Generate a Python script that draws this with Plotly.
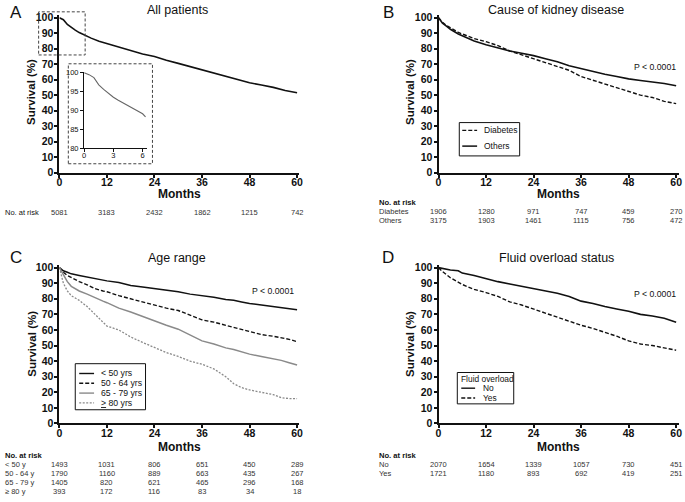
import plotly.graph_objects as go

W, H = 685, 502
FONT = "Arial, Liberation Sans, sans-serif"

# ---------------- data ----------------
months_all = [0, 1, 2, 3, 4, 5, 6, 8, 10, 12, 15, 18, 21, 24, 27, 30, 33, 36, 39, 42, 45, 48, 51, 54, 57, 60]
surv_all = [100, 98.7, 95.6, 93.5, 92, 90.4, 89.1, 86.8, 84.8, 83.2, 81, 78.5, 76.5, 75, 72.5, 70.5, 68.5, 66, 64, 62, 60, 58, 56.5, 55, 53, 51.5]

months_inset = [0, 0.5, 1, 1.5, 2, 2.5, 3, 3.5, 4, 4.5, 5, 5.5, 6, 6.3]
surv_inset = [100, 99.5, 98.7, 96.8, 95.6, 94.5, 93.5, 92.7, 92, 91.2, 90.4, 89.8, 89.1, 88.3]

months_b = [0, 1, 2, 3, 5, 7, 9, 12, 15, 18, 21, 24, 27, 30, 33, 36, 39, 42, 45, 48, 51, 54, 57, 60]
surv_diabetes = [100, 97, 95, 93.5, 90.5, 88.5, 86.5, 84.5, 82, 78.5, 76, 73.5, 70.5, 68.5, 66, 62, 59.5, 57, 55, 52, 50, 48.5, 46, 44.5]
surv_others = [100, 96.5, 94.5, 92.5, 89.5, 87, 85, 82.5, 80.5, 78.5, 77, 75.5, 73.5, 71.5, 69, 67, 65.5, 63.5, 62, 60.5, 59.5, 58.5, 57.5, 56]

months_c = [0, 0.5, 1, 2, 3, 5, 7, 9, 11, 12, 15, 18, 21, 24, 27, 30, 33, 36, 39, 42, 44, 46, 48, 51, 54, 56, 58, 60]
surv_lt50 = [100, 99, 98, 97, 96, 95, 94, 93, 92, 91.5, 90.5, 88.5, 87.5, 86.5, 85.5, 84.5, 83, 82, 81, 79.5, 79, 78, 77, 76, 75, 74.5, 74, 73]
surv_50_64 = [100, 98.5, 97, 95, 93.5, 91, 89, 86.5, 85, 84.5, 82, 80, 78, 76, 74, 72.5, 69.5, 66.5, 65, 63, 62, 60.5, 59, 57, 56, 55, 54, 52.5]
surv_65_79 = [100, 97.5, 95, 91, 88, 85, 83, 80.5, 78.5, 77.5, 74, 71.5, 68.5, 65.5, 63, 60.5, 57, 53, 51, 48.5, 47.5, 46, 44.5, 43, 41.5, 40.5, 39, 37.5]
surv_ge80 = [100, 95, 90, 85, 82, 79, 75, 70, 65, 62.5, 60, 55.5, 52, 48.5, 45.5, 43, 40, 38, 35, 30, 25.5, 23, 21.5, 20, 18.5, 16.5, 16, 16]

months_d = [0, 1, 3, 5, 6, 9, 12, 15, 18, 21, 24, 27, 30, 33, 36, 39, 42, 45, 48, 51, 54, 57, 60]
surv_no = [100, 99.5, 98.5, 98, 96.5, 95, 93, 91, 89.5, 88, 86.5, 85, 83.5, 81.5, 78.5, 77, 75, 73.5, 72, 70, 69, 67.5, 65]
surv_yes = [100, 97.5, 93.5, 90.5, 89.2, 86, 84, 81.5, 78, 76, 73.5, 70.5, 68, 66, 63, 61, 58.5, 56, 53, 51, 50, 48.5, 47]

risk_ticks = [0, 12, 24, 36, 48, 60]
risk_all = ["5081", "3183", "2432", "1862", "1215", "742"]
risk_diabetes = ["1906", "1280", "971", "747", "459", "270"]
risk_others = ["3175", "1903", "1461", "1115", "756", "472"]
risk_lt50 = ["1493", "1031", "806", "651", "450", "289"]
risk_50_64 = ["1790", "1160", "889", "663", "435", "267"]
risk_65_79 = ["1405", "820", "621", "465", "296", "168"]
risk_ge80 = ["393", "172", "116", "83", "34", "18"]
risk_no = ["2070", "1654", "1339", "1057", "730", "451"]
risk_yes = ["1721", "1180", "893", "692", "419", "251"]


def X(p):
    return p / W


def Y(p):
    return 1 - p / H


fig = go.Figure()

BLACK = "#111111"
GREY = "#8a8a8a"
DASH = "4px,2px"
DOT = "2px,1.5px"

# panel A
fig.add_trace(go.Scatter(x=months_all, y=surv_all, mode="lines",
                         line=dict(color=BLACK, width=1.6), xaxis="x", yaxis="y"))
# inset
fig.add_trace(go.Scatter(x=months_inset, y=surv_inset, mode="lines",
                         line=dict(color="#666666", width=1.1), xaxis="x5", yaxis="y5"))
# panel B
fig.add_trace(go.Scatter(x=months_b, y=surv_diabetes, mode="lines",
                         line=dict(color=BLACK, width=1.4, dash=DASH), xaxis="x2", yaxis="y2"))
fig.add_trace(go.Scatter(x=months_b, y=surv_others, mode="lines",
                         line=dict(color=BLACK, width=1.6), xaxis="x2", yaxis="y2"))
# panel C
fig.add_trace(go.Scatter(x=months_c, y=surv_lt50, mode="lines",
                         line=dict(color=BLACK, width=1.5), xaxis="x3", yaxis="y3"))
fig.add_trace(go.Scatter(x=months_c, y=surv_50_64, mode="lines",
                         line=dict(color=BLACK, width=1.4, dash=DASH), xaxis="x3", yaxis="y3"))
fig.add_trace(go.Scatter(x=months_c, y=surv_65_79, mode="lines",
                         line=dict(color=GREY, width=1.5), xaxis="x3", yaxis="y3"))
fig.add_trace(go.Scatter(x=months_c, y=surv_ge80, mode="lines",
                         line=dict(color=GREY, width=1.3, dash=DOT), xaxis="x3", yaxis="y3"))
# panel D
fig.add_trace(go.Scatter(x=months_d, y=surv_no, mode="lines",
                         line=dict(color=BLACK, width=1.6), xaxis="x4", yaxis="y4"))
fig.add_trace(go.Scatter(x=months_d, y=surv_yes, mode="lines",
                         line=dict(color=BLACK, width=1.4, dash=DASH), xaxis="x4", yaxis="y4"))

tickfont = dict(family=FONT, size=10.5, color=BLACK, weight="bold")


def xax(x0, x1, anchor):
    return dict(domain=[X(x0), X(x1)], range=[0, 60.6], anchor=anchor,
                tickvals=[0, 12, 24, 36, 48, 60], ticks="outside", ticklen=3, tickwidth=2,
                tickcolor=BLACK, showline=True, linewidth=2, linecolor=BLACK,
                showgrid=False, zeroline=False, tickfont=tickfont, ticklabelstandoff=-4,
                fixedrange=True)


def yax(y_top, y_bot, anchor):
    return dict(domain=[Y(y_bot), Y(y_top)], range=[0, 101.5], anchor=anchor,
                tickvals=list(range(0, 101, 10)), ticks="outside", ticklen=3, tickwidth=2,
                tickcolor=BLACK, showline=True, linewidth=2, linecolor=BLACK,
                showgrid=False, zeroline=False, tickfont=tickfont, ticklabelstandoff=-1,
                fixedrange=True)


layout = dict(
    width=W, height=H, margin=dict(l=0, r=0, t=0, b=0),
    paper_bgcolor="white", plot_bgcolor="white", showlegend=False,
    font=dict(family=FONT, color=BLACK),
    xaxis=xax(57, 299.5, "y"),
    yaxis=yax(11.6, 172, "x"),
    xaxis2=xax(440, 682.5, "y2"),
    yaxis2=yax(11.6, 172, "x2"),
    xaxis3=xax(57, 299.5, "y3"),
    yaxis3=yax(266.6, 428, "x3"),
    xaxis4=xax(440, 682.5, "y4"),
    yaxis4=yax(266.6, 428, "x4"),
    xaxis5=dict(domain=[X(82), X(145)], range=[0, 6.4], anchor="y5",
                tickvals=[0, 3, 6], ticks="outside", ticklen=3, tickwidth=1,
                tickcolor=BLACK, showline=True, linewidth=1.2, linecolor=BLACK,
                showgrid=False, zeroline=False, ticklabelstandoff=-3,
                tickfont=dict(family=FONT, size=7.5, color=BLACK), fixedrange=True),
    yaxis5=dict(domain=[Y(147), Y(69)], range=[80, 100.3], anchor="x5",
                tickvals=[80, 85, 90, 95, 100], ticks="outside", ticklen=3, tickwidth=1,
                tickcolor=BLACK, showline=True, linewidth=1.2, linecolor=BLACK,
                showgrid=False, zeroline=False,
                tickfont=dict(family=FONT, size=7.5, color=BLACK), fixedrange=True),
)
fig.update_layout(**layout)

ann = []
shapes = []


def text(x, y, s, size, bold=False, xanchor="center", angle=0, xref="paper", color=BLACK):
    ann.append(dict(x=x, y=Y(y), xref=xref, yref="paper", text=s, showarrow=False,
                    xanchor=xanchor, yanchor="middle", textangle=angle,
                    font=dict(family=FONT, size=size, color=color,
                              weight="bold" if bold else "normal")))


# panel letters and titles
for lx, ly, L in [(13, 9, "A"), (389, 9, "B"), (13, 259, "C"), (389, 259, "D")]:
    text(X(lx), ly, L, 17)
text(X(176), 6, "All patients", 12.5)
text(X(559), 6, "Cause of kidney disease", 12.5)
text(X(176), 259, "Age range", 12.5)
text(X(559), 259, "Fluid overload status", 12.5)

# axis titles
for cx in (178, 561):
    text(X(cx), 194, "Months", 12, bold=True)
    text(X(cx), 452, "Months", 12, bold=True)
for cx in (29, 411):
    text(X(cx), 90, "Survival (%)", 11.5, bold=True, angle=-90)
    text(X(cx), 347, "Survival (%)", 11.5, bold=True, angle=-90)

# P values
text(X(659), 64, "P &lt; 0.0001", 8.7)
text(X(273), 293, "P &lt; 0.0001", 8.7)
text(X(659), 296, "P &lt; 0.0001", 8.7)

# number at risk tables
text(X(0), 213, "No. at risk", 7.5, xanchor="left")
for xv, s in zip(risk_ticks, risk_all):
    ann.append(dict(x=xv, y=Y(213), xref="x", yref="paper", text=s, showarrow=False,
                    xanchor="center", yanchor="middle", font=dict(family=FONT, size=7.5, color="#333")))

text(X(378), 203, "No. at risk", 7.6, bold=True, xanchor="left")
for row_y, lab, vals in [(212, "Diabetes", risk_diabetes), (221, "Others", risk_others)]:
    text(X(378), row_y, lab, 7.5, xanchor="left", color="#333")
    for xv, s in zip(risk_ticks, vals):
        ann.append(dict(x=xv, y=Y(row_y), xref="x2", yref="paper", text=s, showarrow=False,
                        xanchor="center", yanchor="middle", font=dict(family=FONT, size=7.5, color="#333")))

text(X(0), 461, "No. at risk", 7.6, bold=True, xanchor="left")
for row_y, lab, vals in [(470, "&lt; 50 y", risk_lt50), (479, "50 - 64 y", risk_50_64),
                         (488, "65 - 79 y", risk_65_79), (497, "≥ 80 y", risk_ge80)]:
    text(X(0), row_y, lab, 7.5, xanchor="left", color="#333")
    for xv, s in zip(risk_ticks, vals):
        ann.append(dict(x=xv, y=Y(row_y), xref="x3", yref="paper", text=s, showarrow=False,
                        xanchor="center", yanchor="middle", font=dict(family=FONT, size=7.5, color="#333")))

text(X(378), 461, "No. at risk", 7.6, bold=True, xanchor="left")
for row_y, lab, vals in [(470, "No", risk_no), (479, "Yes", risk_yes)]:
    text(X(378), row_y, lab, 7.5, xanchor="left", color="#333")
    for xv, s in zip(risk_ticks, vals):
        ann.append(dict(x=xv, y=Y(row_y), xref="x4", yref="paper", text=s, showarrow=False,
                        xanchor="center", yanchor="middle", font=dict(family=FONT, size=7.5, color="#333")))


def rect(x0, y0, x1, y1, dash=None, width=1, color=BLACK):
    shapes.append(dict(type="rect", xref="paper", yref="paper", x0=X(x0), x1=X(x1), y0=Y(y1), y1=Y(y0),
                       line=dict(color=color, width=width, dash=dash), fillcolor="rgba(0,0,0,0)", layer="above"))


def seg(x0, x1, y, color, width, dash=None):
    shapes.append(dict(type="line", xref="paper", yref="paper", x0=X(x0), x1=X(x1), y0=Y(y), y1=Y(y),
                       line=dict(color=color, width=width, dash=dash)))


# dashed zoom boxes for panel A
rect(36, 8, 83, 52, dash="3px,2px", color="#444")
rect(66, 61, 151, 163, dash="3px,2px", color="#444")

# legend B
rect(461, 121, 522, 155, width=1)
seg(464, 479, 129, BLACK, 1.3, DASH)
text(X(484), 129, "Diabetes", 8.5, xanchor="left")
seg(464, 479, 145, BLACK, 1.5)
text(X(484), 145, "Others", 8.5, xanchor="left")

# legend C
rect(73, 367, 144, 414, width=1)
for yy, col, dsh, lab in [(377, BLACK, None, "&lt; 50 yrs"), (387, BLACK, DASH, "50 - 64 yrs"),
                          (397, GREY, None, "65 - 79 yrs"), (407, GREY, DOT, "<u>&gt;</u> 80 yrs")]:
    seg(77, 92, yy, col, 1.4, dsh)
    text(X(97), yy, lab, 8.7, xanchor="left")

# legend D
rect(459, 376, 516, 408, width=1)
text(X(461), 383, "Fluid overload", 8.4, xanchor="left")
seg(463, 477, 392, BLACK, 1.4)
text(X(483), 392, "No", 8.4, xanchor="left")
seg(463, 477, 402, BLACK, 1.3, DASH)
text(X(483), 402, "Yes", 8.4, xanchor="left")

fig.update_layout(annotations=ann, shapes=shapes)
fig.write_html("out.html", config={"displayModeBar": False},
               post_script="document.body.style.margin='0';document.body.style.padding='0';")
